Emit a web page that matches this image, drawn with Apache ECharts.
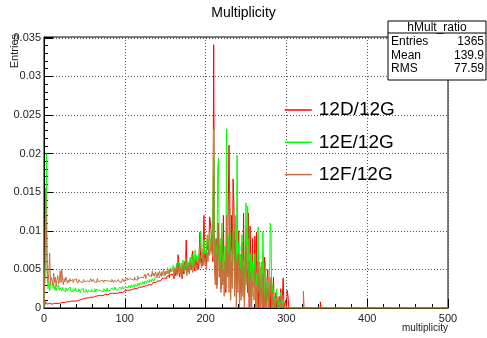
<!DOCTYPE html>
<html>
<head>
<meta charset="utf-8">
<script src="https://cdn.jsdelivr.net/npm/echarts@6/dist/echarts.min.js"></script>
<style>
  html, body { margin: 0; padding: 0; background: #fff; }
  #chart { width: 487px; height: 338px; }
</style>
</head>
<body>
<div id="chart"></div>
<script>
// Histogram hMult_ratio: normalised multiplicity ratios, 1-unit bins starting at 0.
// Bin contents are stored in units of 1e-4.
const SCALE = 1e-4;
const X_MAX = 500;

const seriesNames = ['12D/12G', '12E/12G', '12F/12G'];

const ratio12D = [
  0, 1, 8, 7, 5, 5, 6, 5, 6, 5,
  6, 5, 6, 6, 5, 6, 7, 6, 6, 7,
  6, 7, 7, 8, 7, 8, 7, 8, 8, 9,
  8, 9, 8, 9, 9, 10, 9, 10, 10, 9,
  10, 11, 10, 11, 10, 11, 12, 11, 12, 12,
  12, 13, 12, 13, 13, 14, 13, 14, 14, 13,
  14, 15, 14, 15, 15, 14, 16, 15, 16, 16,
  16, 17, 16, 17, 17, 18, 17, 18, 17, 18,
  18, 19, 18, 19, 19, 18, 20, 19, 20, 20,
  19, 20, 21, 20, 21, 21, 20, 22, 21, 22,
  22, 21, 23, 22, 23, 23, 24, 23, 24, 24,
  24, 25, 24, 26, 25, 26, 25, 27, 26, 27,
  27, 28, 27, 28, 29, 28, 29, 30, 29, 30,
  30, 31, 30, 32, 31, 33, 32, 33, 34, 33,
  35, 34, 36, 35, 37, 36, 38, 37, 39, 38,
  40, 38, 41, 40, 42, 39, 43, 41, 44, 42,
  45, 38, 48, 42, 50, 44, 69, 46, 40, 52,
  48, 38, 55, 44, 60, 50, 88, 47, 52, 58,
  45, 62, 50, 56, 74, 60, 48, 55, 66, 52,
  60, 50, 70, 98, 58, 64, 55, 80, 120, 62,
  70, 55, 90, 75, 85, 118, 110, 95, 80, 60,
  341, 60, 45, 90, 30, 70, 110, 40, 80, 25,
  95, 50, 120, 35, 60, 20, 85, 45, 130, 211,
  65, 30, 120, 40, 167, 137, 55, 90, 25, 70,
  40, 100, 15, 60, 20, 85, 30, 123, 10, 50,
  104, 45, 20, 123, 0, 106, 60, 15, 90, 30,
  40, 93, 0, 98, 20, 35, 0, 54, 10, 30,
  60, 0, 45, 66, 15, 0, 35, 50, 0, 20,
  0, 30, 0, 15, 40, 0, 0, 20, 0, 10,
  0, 15, 0, 25, 0, 15, 39, 0, 0, 10,
  0, 23, 15, 0, 0, 0, 0, 0, 0, 0,
  0, 0, 0, 0, 0, 0, 0, 0, 0, 0,
  0, 0, 0, 0, 0, 0, 0, 0, 0, 0,
  0, 0, 0, 0, 0, 0, 0, 0, 0, 0,
  0, 0, 8, 0, 0, 0, 0, 0, 0, 0
];

const ratio12E = [
  0, 0, 65, 200, 40, 25, 35, 22, 30, 28,
  30, 26, 32, 24, 28, 22, 27, 25, 30, 23,
  26, 24, 22, 27, 23, 25, 21, 26, 24, 22,
  25, 23, 27, 22, 24, 21, 25, 23, 22, 26,
  22, 24, 21, 25, 23, 20, 24, 22, 25, 21,
  23, 21, 24, 22, 20, 23, 25, 21, 22, 24,
  21, 23, 22, 25, 21, 24, 22, 23, 21, 25,
  22, 24, 23, 21, 25, 22, 24, 23, 26, 22,
  24, 23, 25, 22, 26, 24, 23, 25, 27, 23,
  25, 24, 26, 23, 27, 25, 24, 28, 25, 26,
  27, 25, 28, 26, 24, 29, 27, 26, 30, 27,
  28, 30, 27, 31, 29, 28, 32, 30, 29, 33,
  31, 30, 34, 32, 31, 35, 33, 32, 36, 34,
  33, 37, 35, 34, 38, 36, 35, 39, 37, 40,
  38, 41, 39, 42, 40, 43, 41, 44, 42, 45,
  43, 46, 44, 48, 45, 50, 46, 52, 48, 50,
  55, 47, 52, 45, 58, 50, 48, 60, 52, 47,
  58, 44, 62, 55, 50, 65, 52, 48, 60, 55,
  50, 66, 58, 70, 52, 64, 56, 75, 60, 68,
  58, 70, 62, 80, 99, 65, 72, 60, 88, 70,
  75, 66, 95, 80, 70, 98, 86, 74, 90, 110,
  231, 70, 55, 80, 40, 181, 194, 50, 90, 35,
  110, 45, 70, 30, 80, 50, 232, 60, 95, 40,
  130, 20, 75, 45, 100, 70, 30, 120, 60, 198,
  35, 85, 20, 70, 40, 95, 25, 60, 10, 75,
  136, 50, 132, 30, 90, 20, 70, 15, 60, 40,
  25, 70, 10, 45, 0, 105, 30, 60, 0, 50,
  20, 99, 40, 0, 60, 15, 0, 35, 0, 20,
  110, 99, 0, 30, 0, 15, 0, 0, 25, 0,
  10, 0, 0, 20, 0, 0, 10, 0, 0, 0,
  0, 0, 0, 0, 0, 0, 0, 0, 0, 0,
  0, 0, 0, 0, 0, 0, 0, 0, 0, 0,
  0, 0, 0, 0, 0, 0, 0, 0, 0, 0,
  0, 0, 0, 0, 0, 0, 0, 0, 0, 0,
  0, 0, 0, 0, 0, 0, 0, 0, 0, 0
];

const ratio12F = [
  0, 40, 155, 100, 50, 35, 45, 71, 30, 40,
  38, 30, 45, 33, 40, 28, 36, 42, 31, 35,
  48, 33, 50, 36, 30, 38, 34, 40, 36, 32,
  36, 33, 38, 35, 34, 37, 33, 36, 35, 38,
  34, 36, 33, 37, 35, 34, 36, 33, 35, 37,
  34, 36, 35, 33, 37, 34, 36, 35, 38, 34,
  35, 37, 34, 36, 33, 35, 38, 34, 36, 35,
  37, 34, 36, 35, 33, 36, 38, 35, 34, 37,
  35, 33, 36, 34, 37, 35, 33, 36, 38, 34,
  36, 35, 37, 34, 36, 33, 35, 38, 36, 34,
  37, 35, 39, 36, 34, 38, 36, 40, 37, 35,
  38, 36, 40, 37, 39, 36, 41, 38, 37, 40,
  38, 42, 39, 37, 41, 44, 38, 42, 40, 45,
  41, 39, 43, 40, 48, 42, 45, 41, 47, 43,
  40, 46, 42, 48, 44, 41, 47, 43, 50, 45,
  42, 48, 44, 52, 46, 43, 50, 47, 45, 49,
  48, 40, 52, 45, 55, 42, 50, 47, 58, 44,
  52, 40, 56, 48, 45, 58, 50, 42, 55, 48,
  44, 60, 50, 54, 46, 58, 52, 62, 48, 56,
  50, 64, 55, 68, 58, 52, 60, 72, 55, 65,
  62, 50, 72, 60, 80, 68, 75, 90, 70, 65,
  172, 45, 30, 70, 25, 110, 95, 40, 60, 20,
  85, 30, 50, 15, 60, 25, 120, 40, 70, 20,
  150, 10, 60, 25, 100, 90, 15, 80, 0, 60,
  20, 70, 0, 50, 10, 75, 15, 55, 0, 40,
  80, 30, 40, 15, 60, 0, 45, 0, 35, 20,
  10, 50, 0, 30, 0, 60, 20, 40, 0, 25,
  0, 45, 20, 0, 35, 0, 0, 25, 0, 10,
  30, 40, 0, 20, 0, 10, 0, 0, 15, 0,
  0, 0, 10, 15, 0, 0, 5, 0, 0, 0,
  0, 0, 0, 0, 0, 0, 0, 0, 0, 0,
  0, 0, 0, 0, 0, 0, 0, 0, 0, 0,
  0, 22, 0, 0, 0, 0, 0, 0, 0, 0,
  0, 0, 0, 0, 0, 0, 0, 0, 0, 0,
  0, 0, 0, 0, 0, 0, 0, 0, 0, 0
];

const seriesColors = ['#ff0000', '#00ff00', '#c86e3c'];

const statsTitle = 'hMult_ratio';
const statsLabels = ['Entries', 'Mean', 'RMS'];
const statsValues = ['1365', '139.9', '77.59'];

const xTicks = [0, 100, 200, 300, 400, 500];
const yTicks = [0, 0.005, 0.01, 0.015, 0.02, 0.025, 0.03, 0.035];

const FONT = '"Liberation Sans", Arial, Helvetica, sans-serif';

// Each bin is drawn as a horizontal step starting at its lower edge.
function toSteps(values) {
  const pts = values.map((v, i) => [i, v * SCALE]);
  pts.push([X_MAX, 0]);
  return pts;
}

const chart = echarts.init(document.getElementById('chart'), null, { renderer: 'canvas' });

const statsX = 388, statsY = 21, statsW = 98, statsH = 59;
const statsGraphics = [
  { type: 'rect', shape: { x: statsX, y: statsY, width: statsW, height: statsH },
    style: { fill: '#fff', stroke: '#000', lineWidth: 1 }, z: 10 },
  { type: 'line', shape: { x1: statsX, y1: statsY + 12, x2: statsX + statsW, y2: statsY + 12 },
    style: { stroke: '#000', lineWidth: 1 }, z: 11 },
  { type: 'text', x: statsX + statsW / 2, y: statsY + 6.5, z: 11,
    style: { text: statsTitle, font: '12px ' + FONT, fill: '#000', align: 'center', verticalAlign: 'middle' } }
];
statsLabels.forEach((lab, k) => {
  const yy = statsY + 21 + k * 13.5;
  statsGraphics.push({ type: 'text', x: statsX + 3, y: yy, z: 11,
    style: { text: lab, font: '12px ' + FONT, fill: '#000', align: 'left', verticalAlign: 'middle' } });
  statsGraphics.push({ type: 'text', x: statsX + statsW - 2, y: yy, z: 11,
    style: { text: statsValues[k], font: '12px ' + FONT, fill: '#000', align: 'right', verticalAlign: 'middle' } });
});

const option = {
  animation: false,
  backgroundColor: '#ffffff',
  title: {
    text: 'Multiplicity',
    left: 'center',
    top: 1,
    textStyle: { fontFamily: FONT, fontSize: 14, fontWeight: 'normal', color: '#000' }
  },
  legend: {
    data: seriesNames,
    orient: 'vertical',
    left: 284,
    top: 100,
    padding: 0,
    itemWidth: 27,
    itemHeight: 2,
    itemGap: 12.3,
    itemStyle: { color: 'transparent', borderWidth: 0 },
    lineStyle: { width: 1.5 },
    textStyle: { fontFamily: FONT, fontSize: 19, color: '#000', lineHeight: 20, padding: [0, 0, 0, 2] }
  },
  grid: {
    left: 44, right: 39, top: 37, bottom: 30,
    show: true, borderColor: '#000', borderWidth: 1, backgroundColor: 'transparent'
  },
  xAxis: {
    type: 'value',
    min: xTicks[0],
    max: xTicks[xTicks.length - 1],
    interval: xTicks[1] - xTicks[0],
    axisLine: { show: true, onZero: false, lineStyle: { color: '#000', width: 1 } },
    axisTick: { show: true, inside: true, length: 9, lineStyle: { color: '#000' } },
    minorTick: { show: true, splitNumber: 5, length: 4, lineStyle: { color: '#000' } },
    axisLabel: { fontFamily: FONT, fontSize: 11, color: '#222', margin: 5 },
    splitLine: { show: true, lineStyle: { color: '#555', type: [1, 2], width: 1 } }
  },
  yAxis: {
    type: 'value',
    min: yTicks[0],
    max: 0.0351,
    interval: yTicks[1] - yTicks[0],
    axisLine: { show: true, lineStyle: { color: '#000', width: 1 } },
    axisTick: { show: true, inside: true, length: 9, lineStyle: { color: '#000' } },
    minorTick: { show: true, splitNumber: 5, length: 4, lineStyle: { color: '#000' } },
    axisLabel: {
      fontFamily: FONT, fontSize: 11, color: '#222', margin: 3, showMaxLabel: false,
      formatter: v => {
        const hit = yTicks.find(t => Math.abs(t - v) < 1e-9);
        return hit === undefined ? '' : String(hit);
      }
    },
    splitLine: { show: true, lineStyle: { color: '#555', type: [1, 2], width: 1 } }
  },
  graphic: [
    { type: 'text', x: 448, y: 328,
      style: { text: 'multiplicity', font: '10px ' + FONT, fill: '#222', align: 'right', verticalAlign: 'middle' } },
    { type: 'text', x: 14.5, y: 34, rotation: Math.PI / 2,
      style: { text: 'Entries', font: '11px ' + FONT, fill: '#222', align: 'right', verticalAlign: 'middle' } }
  ].concat(statsGraphics),
  series: [ratio12D, ratio12E, ratio12F].map((vals, k) => ({
    name: seriesNames[k],
    type: 'line',
    step: 'end',
    data: toSteps(vals),
    showSymbol: false,
    symbol: 'none',
    clip: true,
    lineStyle: { color: seriesColors[k], width: 1 },
    itemStyle: { color: seriesColors[k] },
    z: 2 + k
  }))
};

chart.setOption(option);
</script>
</body>
</html>
